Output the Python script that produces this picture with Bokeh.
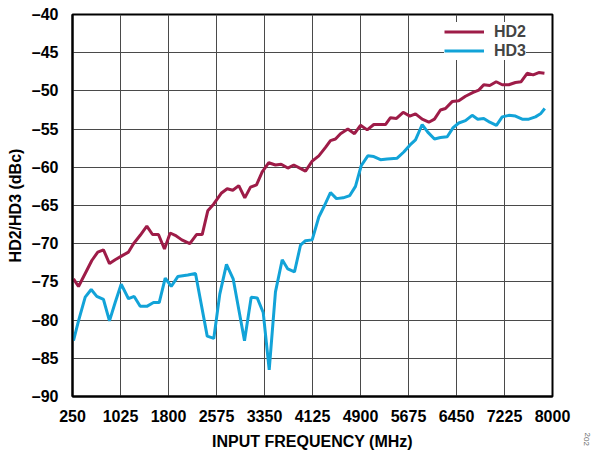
from bokeh.plotting import figure
from bokeh.models import Range1d, FixedTicker, Legend, LegendItem, Label
from bokeh.embed import file_html
from bokeh.resources import INLINE

# ---- data ----
hd2_freq = [266, 347, 455, 562, 658, 750, 847, 939, 1046, 1154, 1235, 1343, 1450, 1542, 1638,
            1735, 1827, 1908, 2015, 2144, 2252, 2344, 2434, 2531, 2651, 2748, 2838, 2935, 3032,
            3124, 3221, 3313, 3419, 3527, 3619, 3726, 3823, 3920, 4012, 4120, 4227, 4335, 4415,
            4496, 4577, 4695, 4803, 4900, 5008, 5115, 5211, 5303, 5384, 5481, 5589, 5696, 5788,
            5896, 6003, 6094, 6191, 6272, 6380, 6487, 6595, 6719, 6810, 6890, 6987, 7091, 7188,
            7294, 7402, 7494, 7591, 7688, 7778, 7870]
hd2_dbc = [-74.6, -75.6, -73.9, -72.2, -71.1, -70.8, -72.6, -72.1, -71.6, -71.1, -70.0, -68.9,
           -67.7, -68.8, -68.8, -70.7, -68.6, -68.9, -69.5, -70.0, -68.8, -68.8, -65.7, -64.8,
           -63.4, -62.8, -63.0, -62.4, -64.0, -62.6, -62.3, -60.6, -59.4, -59.7, -59.6, -60.1,
           -59.7, -60.1, -60.5, -59.2, -58.5, -57.4, -56.5, -56.3, -55.6, -55.0, -55.6, -54.5,
           -55.1, -54.4, -54.4, -54.4, -53.5, -53.6, -52.8, -53.3, -53.0, -53.7, -54.1, -53.7,
           -52.5, -52.3, -51.4, -51.3, -50.7, -50.2, -49.9, -49.2, -49.3, -48.8, -49.2, -49.2,
           -48.9, -48.8, -47.7, -47.9, -47.6, -47.7]

hd3_freq = [266, 347, 455, 552, 642, 750, 847, 939, 1036, 1154, 1246, 1343, 1450, 1558, 1650,
            1747, 1844, 1950, 2112, 2236, 2425, 2531, 2628, 2736, 2844, 3027, 3135, 3232, 3329,
            3426, 3527, 3636, 3726, 3834, 3931, 4012, 4120, 4227, 4319, 4415, 4512, 4620, 4727,
            4819, 4911, 5018, 5115, 5223, 5331, 5492, 5599, 5696, 5788, 5896, 5986, 6094, 6191,
            6300, 6396, 6487, 6595, 6703, 6793, 6890, 6987, 7095, 7188, 7294, 7402, 7511, 7617,
            7725, 7806, 7875]
hd3_dbc = [-82.7, -80.1, -77.0, -76.0, -76.9, -77.3, -80.1, -77.7, -75.3, -77.2, -76.9, -78.2,
           -78.2, -77.7, -77.7, -74.5, -75.6, -74.3, -74.1, -73.9, -82.1, -82.4, -76.6, -72.7,
           -74.6, -82.7, -77.0, -77.1, -79.0, -86.5, -76.3, -72.1, -73.3, -73.7, -70.2, -69.6,
           -69.5, -66.5, -65.0, -63.3, -64.1, -64.0, -63.7, -62.5, -59.8, -58.5, -58.6, -59.0,
           -58.9, -58.8, -58.0, -57.1, -56.4, -54.4, -55.4, -56.3, -56.1, -56.0, -54.8, -54.2,
           -53.9, -53.2, -53.7, -53.6, -54.1, -54.5, -53.4, -53.2, -53.3, -53.7, -53.7, -53.4,
           -53.0, -52.3]

x_ticks = [250, 1025, 1800, 2575, 3350, 4125, 4900, 5675, 6450, 7225, 8000]
y_ticks = [-90, -85, -80, -75, -70, -65, -60, -55, -50, -45, -40]

HD2_COLOR = "#9E1C48"
HD3_COLOR = "#12A3D8"
FONT = "Liberation Sans"

p = figure(frame_width=480, frame_height=382, output_backend="svg", toolbar_location=None,
           x_range=Range1d(250, 8000), y_range=Range1d(-90, -40),
           min_border_left=72, min_border_top=14, min_border_right=40, min_border_bottom=56)

p.background_fill_color = "white"
p.border_fill_color = "white"
p.outline_line_color = "black"
p.outline_line_width = 2

for ax in (p.xaxis[0], p.yaxis[0]):
    ax.major_tick_line_color = None
    ax.minor_tick_line_color = None
    ax.major_label_text_font = FONT
    ax.major_label_text_font_style = "bold"
    ax.major_label_text_font_size = "16px"
    ax.major_label_text_color = "black"
    ax.axis_label_text_font = FONT
    ax.axis_label_text_font_style = "bold"
    ax.axis_label_text_font_size = "16px"
    ax.axis_label_text_color = "black"
    ax.axis_line_color = "black"
    ax.axis_line_width = 2

p.xaxis.ticker = FixedTicker(ticks=x_ticks)
p.yaxis.ticker = FixedTicker(ticks=y_ticks)
p.yaxis.major_label_overrides = {t: "\u2013" + str(abs(t)) for t in y_ticks}
p.xaxis.axis_label = "INPUT FREQUENCY (MHz)"
p.yaxis.axis_label = "HD2/HD3 (dBc)"
p.xaxis.major_label_standoff = 7
p.xaxis.axis_label_standoff = 8
p.yaxis.major_label_standoff = 8
p.yaxis.axis_label_standoff = 5

p.xgrid.grid_line_color = "#4a4a4a"
p.ygrid.grid_line_color = "#4a4a4a"
p.xgrid.grid_line_width = 1
p.ygrid.grid_line_width = 1

r2 = p.line(hd2_freq, hd2_dbc, line_color=HD2_COLOR, line_width=3)
r3 = p.line(hd3_freq, hd3_dbc, line_color=HD3_COLOR, line_width=3)

legend = Legend(items=[LegendItem(label="HD2", renderers=[r2]),
                       LegendItem(label="HD3", renderers=[r3])],
                location=(372, 336), orientation="vertical")
legend.border_line_color = None
legend.background_fill_color = "white"
legend.background_fill_alpha = 1
legend.label_text_font = FONT
legend.label_text_font_style = "bold"
legend.label_text_font_size = "16px"
legend.glyph_width = 40
legend.glyph_height = 19
legend.label_height = 19
legend.spacing = 0
legend.padding = 5
legend.margin = 0
legend.label_standoff = 10
p.add_layout(legend, "center")

note = Label(x=32, y=-36, x_units="screen", y_units="screen", text="202", angle=-1.5708,
             text_font=FONT, text_font_size="8px", text_color="#666666")
p.add_layout(note, "right")

open("out.html", "w").write(file_html(p, INLINE))
